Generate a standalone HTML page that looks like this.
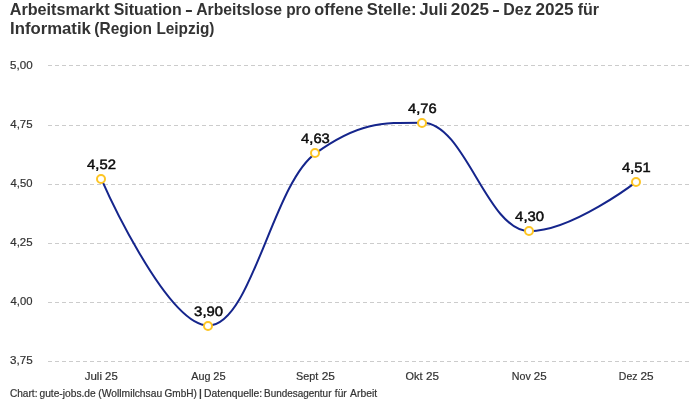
<!DOCTYPE html>
<html lang="de">
<head>
<meta charset="utf-8">
<title>Arbeitsmarkt Situation</title>
<style>
html,body{margin:0;padding:0;background:#fff;}
body{width:700px;height:400px;overflow:hidden;}
svg{display:block;font-family:"Liberation Sans",sans-serif;}
text{white-space:pre;}
.title{font-size:15.7px;font-weight:bold;fill:#333333;}
.ylab{font-size:11px;fill:#333333;stroke:#333333;stroke-width:0.2px;}
.xlab{font-size:11px;fill:#333333;stroke:#333333;stroke-width:0.2px;}
.dl{text-rendering:geometricPrecision;font-size:13.6px;fill:#0c0c0c;stroke:#0c0c0c;stroke-width:0.48px;}
.foot{font-size:10.3px;fill:#333333;stroke:#333333;stroke-width:0.2px;}
.grid{stroke:#cccccc;stroke-width:1;stroke-dasharray:4 3;fill:none;}
.line{stroke:#15258c;stroke-width:2;fill:none;stroke-linejoin:round;stroke-linecap:round;}
.mk{fill:#ffffff;stroke:#fdc524;stroke-width:2;}
</style>
</head>
<body>
<svg width="700" height="400" viewBox="0 0 700 400">
<rect x="0" y="0" width="700" height="400" fill="#ffffff"/>
<g class="grid">
<path d="M 48.0 65.5 L 690.0 65.5"/>
<path d="M 48.0 125.5 L 690.0 125.5"/>
<path d="M 48.0 184.5 L 690.0 184.5"/>
<path d="M 48.0 243.5 L 690.0 243.5"/>
<path d="M 48.0 302.5 L 690.0 302.5"/>
<path d="M 48.0 361.5 L 690.0 361.5"/>
</g>
<text class="title" y="14.50"><tspan x="9.69" textLength="99.88" lengthAdjust="spacingAndGlyphs">Arbeitsmarkt</tspan> <tspan x="113.70" textLength="68.05" lengthAdjust="spacingAndGlyphs">Situation</tspan> <tspan x="184.91" textLength="7.87" lengthAdjust="spacingAndGlyphs">-</tspan> <tspan x="196.21" textLength="85.75" lengthAdjust="spacingAndGlyphs">Arbeitslose</tspan> <tspan x="286.19" textLength="24.78" lengthAdjust="spacingAndGlyphs">pro</tspan> <tspan x="314.34" textLength="48.92" lengthAdjust="spacingAndGlyphs">offene</tspan> <tspan x="366.67" textLength="49.85" lengthAdjust="spacingAndGlyphs">Stelle:</tspan> <tspan x="419.43" textLength="28.01" lengthAdjust="spacingAndGlyphs">Juli</tspan> <tspan x="450.89" textLength="38.02" lengthAdjust="spacingAndGlyphs">2025</tspan> <tspan x="492.16" textLength="7.61" lengthAdjust="spacingAndGlyphs">-</tspan> <tspan x="503.29" textLength="28.33" lengthAdjust="spacingAndGlyphs">Dez</tspan> <tspan x="535.47" textLength="38.11" lengthAdjust="spacingAndGlyphs">2025</tspan> <tspan x="577.75" textLength="21.37" lengthAdjust="spacingAndGlyphs">für</tspan></text>
<text class="title" y="33.60"><tspan x="10.06" textLength="80.82" lengthAdjust="spacingAndGlyphs">Informatik</tspan> <tspan x="94.33" textLength="57.61" lengthAdjust="spacingAndGlyphs">(Region</tspan> <tspan x="156.39" textLength="58.13" lengthAdjust="spacingAndGlyphs">Leipzig)</tspan></text>
<text class="ylab" y="69.00"><tspan x="10.14" textLength="22.56" lengthAdjust="spacingAndGlyphs">5,00</tspan></text>
<text class="ylab" y="128.00"><tspan x="10.34" textLength="22.25" lengthAdjust="spacingAndGlyphs">4,75</tspan></text>
<text class="ylab" y="187.00"><tspan x="10.52" textLength="21.91" lengthAdjust="spacingAndGlyphs">4,50</tspan></text>
<text class="ylab" y="246.00"><tspan x="10.34" textLength="22.25" lengthAdjust="spacingAndGlyphs">4,25</tspan></text>
<text class="ylab" y="305.00"><tspan x="10.52" textLength="21.91" lengthAdjust="spacingAndGlyphs">4,00</tspan></text>
<text class="ylab" y="364.00"><tspan x="9.96" textLength="22.68" lengthAdjust="spacingAndGlyphs">3,75</tspan></text>
<text class="xlab" y="379.70"><tspan x="84.72" textLength="17.25" lengthAdjust="spacingAndGlyphs">Juli</tspan> <tspan x="105.10" textLength="12.65" lengthAdjust="spacingAndGlyphs">25</tspan></text>
<text class="xlab" y="379.70"><tspan x="191.34" textLength="19.22" lengthAdjust="spacingAndGlyphs">Aug</tspan> <tspan x="213.33" textLength="12.31" lengthAdjust="spacingAndGlyphs">25</tspan></text>
<text class="xlab" y="379.70"><tspan x="296.02" textLength="22.25" lengthAdjust="spacingAndGlyphs">Sept</tspan> <tspan x="321.65" textLength="13.26" lengthAdjust="spacingAndGlyphs">25</tspan></text>
<text class="xlab" y="379.70"><tspan x="405.51" textLength="16.91" lengthAdjust="spacingAndGlyphs">Okt</tspan> <tspan x="425.91" textLength="12.99" lengthAdjust="spacingAndGlyphs">25</tspan></text>
<text class="xlab" y="379.70"><tspan x="511.83" textLength="19.01" lengthAdjust="spacingAndGlyphs">Nov</tspan> <tspan x="533.83" textLength="12.84" lengthAdjust="spacingAndGlyphs">25</tspan></text>
<text class="xlab" y="379.70"><tspan x="618.84" textLength="18.65" lengthAdjust="spacingAndGlyphs">Dez</tspan> <tspan x="640.50" textLength="13.12" lengthAdjust="spacingAndGlyphs">25</tspan></text>
<path class="line" d="M 101.50 179.28 C 101.50 179.28 165.70 325.60 208.50 325.60 C 251.30 325.60 272.70 184.00 315.50 153.32 C 358.30 122.64 379.70 122.64 422.50 122.64 C 465.30 122.64 486.70 231.20 529.50 231.20 C 572.30 231.20 636.50 181.64 636.50 181.64"/>
<circle class="mk" cx="101" cy="179" r="4"/>
<circle class="mk" cx="208" cy="326" r="4"/>
<circle class="mk" cx="315" cy="153" r="4"/>
<circle class="mk" cx="422" cy="123" r="4"/>
<circle class="mk" cx="529" cy="231" r="4"/>
<circle class="mk" cx="636" cy="182" r="4"/>
<text class="dl" y="169.00"><tspan x="87.14" textLength="28.86" lengthAdjust="spacingAndGlyphs">4,52</tspan></text>
<text class="dl" y="316.00"><tspan x="194.13" textLength="28.94" lengthAdjust="spacingAndGlyphs">3,90</tspan></text>
<text class="dl" y="143.00"><tspan x="301.11" textLength="28.69" lengthAdjust="spacingAndGlyphs">4,63</tspan></text>
<text class="dl" y="113.00"><tspan x="408.10" textLength="28.61" lengthAdjust="spacingAndGlyphs">4,76</tspan></text>
<text class="dl" y="221.00"><tspan x="515.11" textLength="28.99" lengthAdjust="spacingAndGlyphs">4,30</tspan></text>
<text class="dl" y="172.00"><tspan x="622.12" textLength="28.62" lengthAdjust="spacingAndGlyphs">4,51</tspan></text>
<text class="foot" y="396.90"><tspan x="9.96" textLength="27.52" lengthAdjust="spacingAndGlyphs">Chart:</tspan> <tspan x="39.46" textLength="56.27" lengthAdjust="spacingAndGlyphs">gute-jobs.de</tspan> <tspan x="98.33" textLength="63.85" lengthAdjust="spacingAndGlyphs">(Wollmilchsau</tspan> <tspan x="164.50" textLength="32.29" lengthAdjust="spacingAndGlyphs">GmbH)</tspan> <tspan x="198.72" textLength="3.40" lengthAdjust="spacingAndGlyphs">|</tspan> <tspan x="204.05" textLength="58.20" lengthAdjust="spacingAndGlyphs">Datenquelle:</tspan> <tspan x="264.09" textLength="67.39" lengthAdjust="spacingAndGlyphs">Bundesagentur</tspan> <tspan x="334.81" textLength="11.90" lengthAdjust="spacingAndGlyphs">für</tspan> <tspan x="350.11" textLength="26.96" lengthAdjust="spacingAndGlyphs">Arbeit</tspan></text>
</svg>
</body>
</html>
